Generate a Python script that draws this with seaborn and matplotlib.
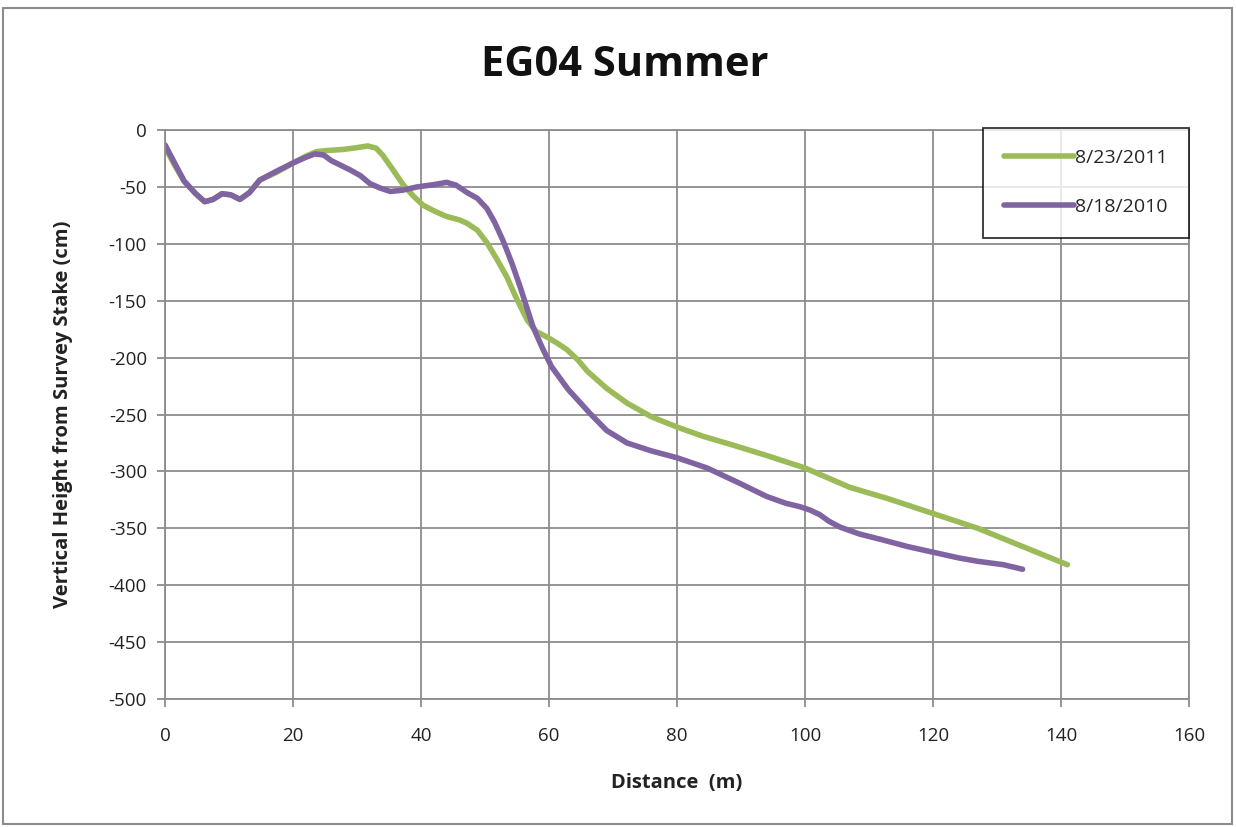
import matplotlib
matplotlib.use("Agg")
import matplotlib.pyplot as plt
from matplotlib.patches import Rectangle
import seaborn as sns
import pandas as pd

# --- data ---
dist_2011 = [0, 1.5, 3, 4.8, 6.2, 7.5, 8.9, 10.3, 11.7, 13.2, 14.8, 17.5, 20, 22, 23.7, 25.5,
             28, 30, 31.7, 33, 34, 35.5, 37.2, 38.8, 40.3, 42, 44, 46, 47.2, 48.8, 50.3,
             51.8, 53.4, 55, 56.6, 58, 59.7, 61.2, 62.8, 64.5, 66, 69, 72.2, 76, 80,
             84, 88.8, 94, 100, 107, 113, 120, 127, 134, 141]
height_2011 = [-15, -31, -45, -56, -63, -61, -56, -57, -61, -55, -44, -37, -29, -23, -19, -18,
               -17, -15.5, -14, -16, -22, -34, -48, -58, -66, -71, -76, -79, -82, -88, -99,
               -113, -129, -149, -167, -177, -182, -187, -193, -202, -212, -227, -240, -252, -261,
               -269, -277, -286, -297, -314, -324, -337, -350, -366, -382]

dist_2010 = [0, 1.5, 3, 4.8, 6.2, 7.5, 8.9, 10.3, 11.7, 13.2, 14.8, 17.5, 20, 22, 23.4, 24.8,
             26, 28.9, 30.5, 32, 33.6, 35.2, 37, 39.4, 42, 44, 45.5, 47.2, 48.8, 50.3,
             51.5, 52.8, 54.2, 55.5, 57.5, 59, 60.4, 63, 66.4, 69, 72.2, 76, 80, 84.7,
             90, 94, 97, 99.2, 100.8, 102.3, 103.8, 105.5, 108.5, 112, 116, 120, 124, 127,
             131, 134]
height_2010 = [-13, -29, -45, -56, -63, -61, -56, -57, -61, -55, -44, -36, -29, -24, -21, -22,
               -27, -35, -40, -47, -51, -54, -53, -50, -48, -46, -48.5, -55, -60, -69,
               -81, -97, -117, -138, -173, -192, -208, -228, -249, -264, -275, -282, -288, -297,
               -311, -322, -328, -331, -334, -338, -344, -349, -355, -360, -366, -371, -376, -379,
               -382, -386]

series_labels = ["8/23/2011", "8/18/2010"]
series_colors = ["#9BBB59", "#8064A2"]
x_ticks = list(range(0, 161, 20))
y_ticks = list(range(0, -501, -50))

df = pd.concat([
    pd.DataFrame({"Distance": dist_2011, "Height": height_2011, "Survey": series_labels[0]}),
    pd.DataFrame({"Distance": dist_2010, "Height": height_2010, "Survey": series_labels[1]}),
], ignore_index=True)

sns.set_theme(style="white")
plt.rcParams["font.family"] = ["Open Sans", "DejaVu Sans"]
plt.rcParams["axes.unicode_minus"] = False

fig = plt.figure(figsize=(12.36, 8.27), dpi=100)
ax = fig.add_axes([165 / 1236, 1 - 699 / 827, (1189 - 165) / 1236, (699 - 130) / 827])

sns.lineplot(data=df, x="Distance", y="Height", hue="Survey", sort=False,
             palette=dict(zip(series_labels, series_colors)), linewidth=4.0,
             ax=ax, legend=True)
for ln in ax.lines:
    ln.set_solid_capstyle("round")
    ln.set_solid_joinstyle("round")

ax.set_xlim(0, 160)
ax.set_ylim(-500, 0)
ax.set_xticks(x_ticks)
ax.set_yticks(y_ticks)
ax.set_xticklabels([str(t) for t in x_ticks])
ax.set_yticklabels([str(t) for t in y_ticks])
ax.grid(True, color="#8c8c8c", linewidth=1.3)
ax.set_axisbelow(True)
for s in ax.spines.values():
    s.set_color("#8c8c8c")
    s.set_linewidth(1.3)
ax.tick_params(axis="both", which="major", direction="out", length=6, width=1.3,
               color="#8c8c8c", labelsize=13.5, labelcolor="#222222", pad=7,
               bottom=True, left=True)
ax.tick_params(axis="x", pad=14)

ax.set_xlabel("Distance  (m)", fontsize=14.5, fontweight="bold", labelpad=20, color="#222222")
ax.set_ylabel("Vertical Height from Survey Stake (cm)", fontsize=14.5, fontweight="bold",
              labelpad=26, color="#222222")
fig.text(625 / 1236, 1 - 66 / 827, "EG04 Summer", ha="center", va="center",
         fontsize=30, fontweight="bold", color="#111111")

leg = ax.legend(loc="upper right", bbox_to_anchor=(1.0, 1.004), frameon=True, fancybox=False,
                fontsize=14, handlelength=3.6, handletextpad=0.05, labelspacing=1.6,
                borderpad=1.1, borderaxespad=0.0)
leg.get_frame().set_edgecolor("black")
leg.get_frame().set_linewidth(1.3)
for h in leg.get_lines():
    h.set_linewidth(4.0)

fig.patches.append(Rectangle((3 / 1236, 3 / 827), 1229 / 1236, 816 / 827,
                             transform=fig.transFigure, fill=False,
                             edgecolor="#8c8c8c", linewidth=1.5))

fig.savefig("out.png", dpi=100)
